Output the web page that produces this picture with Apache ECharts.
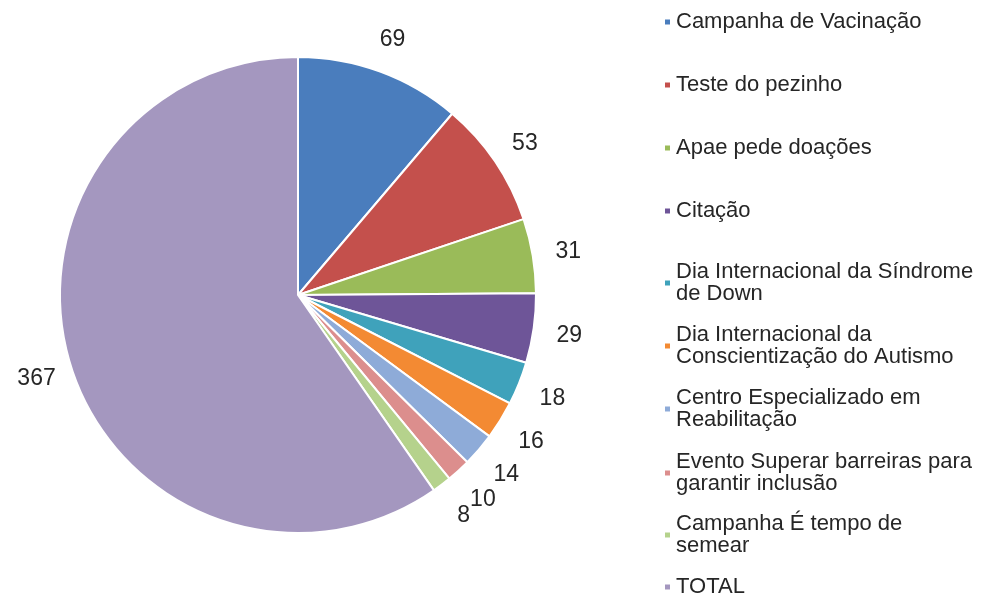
<!DOCTYPE html>
<html>
<head>
<meta charset="utf-8">
<script src="https://cdn.jsdelivr.net/npm/echarts@6/dist/echarts.min.js"></script>
<style>
  html, body { margin: 0; padding: 0; background: #fff; }
  #chart { width: 987px; height: 595px; }
</style>
</head>
<body>
<div id="chart"></div>
<script>
// categories (legend names, \n where the legend wraps)
const names = [
  'Campanha de Vacinação',
  'Teste do pezinho',
  'Apae pede doações',
  'Citação',
  'Dia Internacional da Síndrome\nde Down',
  'Dia Internacional da\nConscientização do Autismo',
  'Centro Especializado em\nReabilitação',
  'Evento Superar barreiras para\ngarantir inclusão',
  'Campanha É tempo de\nsemear',
  'TOTAL'
];
const values = [69, 53, 31, 29, 18, 16, 14, 10, 8, 367];
const colors = ['#4a7dbd', '#c4504c', '#9abb59', '#6e5598', '#3fa2bb', '#f38a33', '#8eabd8', '#dc8e8d', '#b5d28c', '#a497bf'];

const font = '"Liberation Sans", Arial, sans-serif';
// y of each legend marker
const legendCenters = [22, 85, 148, 211, 271, 334, 397, 461, 523, 587];

const legends = names.map((n, i) => {
  const twoLines = n.indexOf('\n') >= 0;
  return {
    data: [n],
    orient: 'vertical',
    left: 663,
    top: twoLines ? legendCenters[i] - 21 : legendCenters[i] - 11,
    padding: 0,
    icon: 'rect',
    itemWidth: 7,
    itemHeight: 7,
    itemGap: 0,
    selectedMode: false,
    textStyle: {
      fontFamily: font,
      fontSize: 22,
      lineHeight: 22,
      color: '#262626',
      padding: twoLines ? [22, 0, 0, 0] : 0
    }
  };
});

const pieData = names.map((n, i) => ({ name: n, value: values[i] }));

const chart = echarts.init(document.getElementById('chart'));
chart.setOption({
  animation: false,
  color: colors,
  legend: legends,
  series: [
    {
      type: 'pie',
      center: [298, 295],
      radius: 238,
      startAngle: 90,
      clockwise: true,
      itemStyle: { borderColor: '#fff', borderWidth: 2 },
      label: { show: false },
      labelLine: { show: false },
      emphasis: { disabled: true },
      data: pieData
    },
    {
      // value labels only, centred on a ring just outside the pie
      type: 'pie',
      center: [298, 297],
      radius: [250, 292],
      startAngle: 90,
      clockwise: true,
      silent: true,
      itemStyle: { color: 'transparent' },
      label: {
        show: true,
        position: 'inside',
        formatter: '{c}',
        fontFamily: font,
        fontSize: 23,
        color: '#262626'
      },
      labelLine: { show: false },
      emphasis: { disabled: true },
      data: pieData
    }
  ]
});
</script>
</body>
</html>
